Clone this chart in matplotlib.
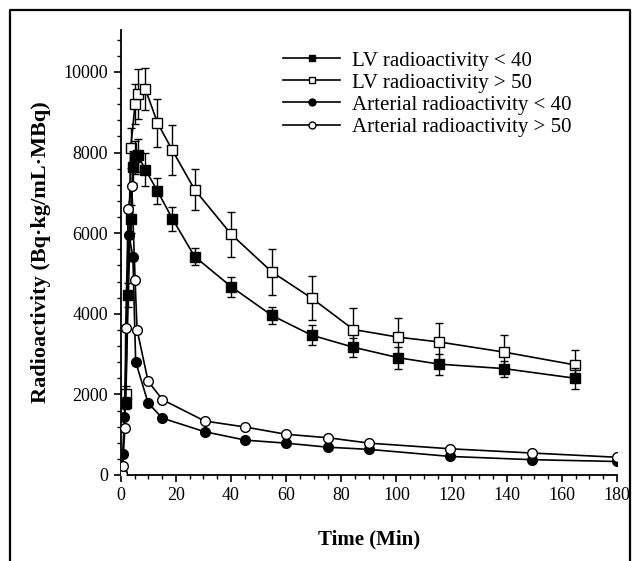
import matplotlib
matplotlib.use("Agg")
import matplotlib.pyplot as plt
from matplotlib.ticker import MultipleLocator
from matplotlib.lines import Line2D

plt.rcParams['font.family'] = ['Liberation Serif', 'DejaVu Serif']

# LV radioactivity < 40 (filled squares)
lv_lo_t = [1.8, 2.7, 3.6, 4.3, 5.2, 6.2, 8.9, 13.3, 18.7, 26.8, 40.1, 54.8, 69.2, 84.4, 100.7, 115.6, 139.0, 164.9]
lv_lo_v = [1790, 4470, 6360, 7650, 7880, 7930, 7580, 7050, 6360, 5420, 4670, 3960, 3470, 3170, 2910, 2750, 2640, 2400]
lv_lo_e = [150, 300, 350, 400, 400, 400, 400, 330, 300, 220, 250, 220, 240, 230, 270, 260, 200, 260]

# LV radioactivity > 50 (open squares)
lv_hi_t = [1.8, 3.6, 5.2, 6.2, 8.9, 13.3, 18.7, 26.8, 40.1, 54.8, 69.2, 84.4, 100.7, 115.6, 139.0, 164.9]
lv_hi_v = [2000, 8120, 9200, 9450, 9580, 8740, 8060, 7080, 5970, 5040, 4390, 3610, 3420, 3300, 3050, 2730]
lv_hi_e = [200, 500, 500, 620, 530, 600, 620, 510, 550, 580, 540, 530, 480, 460, 430, 380]

# Arterial radioactivity < 40 (filled circles)
ar_lo_t = [0.3, 0.7, 1.3, 3.0, 4.4, 5.4, 9.9, 15.1, 30.4, 45.2, 60.0, 75.1, 90.2, 119.6, 149.2, 180.0]
ar_lo_v = [50, 510, 1430, 5950, 5420, 2810, 1790, 1410, 1075, 865, 790, 690, 635, 460, 380, 335]

# Arterial radioactivity > 50 (open circles)
ar_hi_t = [0.3, 0.7, 1.5, 1.8, 2.7, 4.0, 5.2, 5.9, 9.9, 15.1, 30.4, 45.2, 60.0, 75.1, 90.2, 119.6, 149.2, 180.0]
ar_hi_v = [20, 220, 1170, 3650, 6600, 7180, 4840, 3610, 2330, 1870, 1340, 1190, 1010, 925, 790, 650, 545, 440]

labels = ["LV radioactivity < 40", "LV radioactivity > 50",
          "Arterial radioactivity < 40", "Arterial radioactivity > 50"]

fig = plt.figure(figsize=(6.39, 5.61), dpi=100)
ax = fig.add_axes([0.189, 0.1533, 0.7766, 0.7938])

lw = 1.2
ax.errorbar(lv_hi_t, lv_hi_v, yerr=lv_hi_e, color='black', lw=lw, marker='s', ms=7.5,
            mfc='white', mec='black', mew=1.0, capsize=3, elinewidth=1.0, zorder=3)
ax.errorbar(lv_lo_t, lv_lo_v, yerr=lv_lo_e, color='black', lw=lw, marker='s', ms=7.5,
            mfc='black', mec='black', capsize=3, elinewidth=1.0, zorder=4)
ax.plot(ar_hi_t, ar_hi_v, color='black', lw=lw, marker='o', ms=7,
        mfc='white', mec='black', mew=1.0, zorder=5)
ax.plot(ar_lo_t, ar_lo_v, color='black', lw=lw, marker='o', ms=7,
        mfc='black', mec='black', zorder=4)

ax.set_xlim(0, 180)
ax.set_ylim(0, 11050)
ax.xaxis.set_major_locator(MultipleLocator(20))
ax.xaxis.set_minor_locator(MultipleLocator(5))
ax.yaxis.set_major_locator(MultipleLocator(2000))
ax.yaxis.set_minor_locator(MultipleLocator(400))
ax.spines['top'].set_visible(False)
ax.spines['right'].set_visible(False)
for s in ('left', 'bottom'):
    ax.spines[s].set_linewidth(1.3)
ax.tick_params(which='major', direction='out', length=5, width=1.2, labelsize=13, pad=4)
ax.tick_params(which='minor', direction='out', length=3, width=1.0)

ax.set_xlabel("Time (Min)", fontsize=15, fontweight='bold', labelpad=18)
ax.set_ylabel("Radioactivity (Bq·kg/mL·MBq)", fontsize=16, fontweight='bold', labelpad=9)

handles = [
    Line2D([], [], color='black', lw=lw, marker='s', ms=5, mfc='black', mec='black'),
    Line2D([], [], color='black', lw=lw, marker='s', ms=5, mfc='white', mec='black'),
    Line2D([], [], color='black', lw=lw, marker='o', ms=5, mfc='black', mec='black'),
    Line2D([], [], color='black', lw=lw, marker='o', ms=5, mfc='white', mec='black'),
]
ax.legend(handles, labels, loc='upper left', bbox_to_anchor=(283/639, 1 - 51/561),
          bbox_transform=fig.transFigure, frameon=False, fontsize=15,
          handlelength=2.75, handletextpad=0.55, labelspacing=0.12, borderpad=0, borderaxespad=0)

# outer frame
W, H = 639, 561
fig.add_artist(Line2D([10/W, 10/W, 630/W, 630/W], [0, 1 - 10/H, 1 - 10/H, 0],
                      transform=fig.transFigure, color='black', lw=1.6))

fig.savefig("out.png", dpi=100)
